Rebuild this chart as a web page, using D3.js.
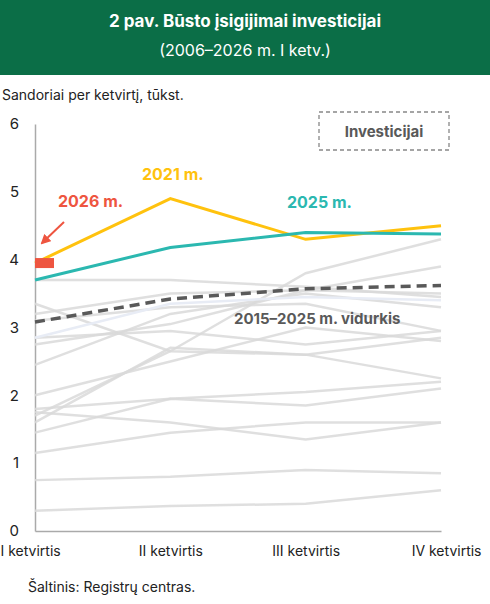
<!DOCTYPE html><html><head><meta charset="utf-8"><script src="https://cdn.jsdelivr.net/npm/d3@7"></script>
<style>body{margin:0;background:#fff;font-family:Inter,"Noto Sans",sans-serif}</style></head><body><svg id="c" width="490" height="604"></svg><script>
const categories=["I ketvirtis","II ketvirtis","III ketvirtis","IV ketvirtis"];
const grayYears=[[0.3,0.37,0.4,0.6],[0.75,0.8,0.9,0.85],[1.15,1.45,1.6,1.6],[1.75,1.6,1.35,1.6],[1.45,1.95,2.05,2.2],[1.8,1.95,1.85,2.1],[1.6,2.7,2.6,2.25],[2.0,2.5,3.0,2.8],[1.7,2.65,3.8,4.3],[2.45,3.2,3.5,3.3],[2.75,3.05,3.55,3.5],[3.35,2.65,2.6,2.85],[2.85,2.95,2.75,2.95],[3.2,3.5,3.55,3.9],[3.7,3.7,3.6,3.45],[3.1,3.3,3.35,2.95]];
const lightYears=[[2.85,3.35,3.45,3.4]];
const y2021=[3.95,4.9,4.3,4.5];
const y2025=[3.7,4.18,4.4,4.38];
const y2026=[3.95];
const avg=[3.08,3.42,3.57,3.62];
const yTicks=[0,1,2,3,4,5,6];
const svg=d3.select("#c");
svg.append("rect").attr("width",490).attr("height",75).attr("fill","#0b6e47");
svg.append("text").attr("x",245).attr("y",27).attr("text-anchor","middle").attr("fill","#fff").attr("font-weight","bold").attr("font-size",17).text("2 pav. Būsto įsigijimai investicijai");
svg.append("text").attr("x",245).attr("y",56).attr("text-anchor","middle").attr("fill","#fff").attr("font-size",16).text("(2006–2026 m. I ketv.)");
svg.append("text").attr("x",2).attr("y",100).attr("font-size",14).attr("fill","#222").text("Sandoriai per ketvirtį, tūkst.");
const x=d3.scalePoint().domain(categories).range([35,441]);
const y=d3.scaleLinear().domain([0,6]).range([531,124]);
const ax=svg.append("g").attr("transform","translate(0,531)").call(d3.axisBottom(x).tickSize(0).tickPadding(15));
ax.select(".domain").attr("stroke","#aaa").attr("stroke-width",1.5);
ax.selectAll("text").attr("font-size",14).attr("fill","#222").attr("font-family","Inter,sans-serif");
ax.selectAll(".tick text").filter((d,i)=>i==0).attr("text-anchor","start").attr("dx",-35);
ax.selectAll(".tick text").filter((d,i)=>i==3).attr("text-anchor","end").attr("dx",40);
const ay=svg.append("g").attr("transform","translate(35,0)").call(d3.axisLeft(y).tickValues(yTicks).tickFormat(d3.format("d")).tickSize(0).tickPadding(16));
ay.select(".domain").attr("stroke","#aaa").attr("stroke-width",1.5);
ay.selectAll("text").attr("font-size",15).attr("fill","#222").attr("font-family","Inter,sans-serif");
const line=d3.line().x((d,i)=>x(categories[i])).y(d=>y(d));
grayYears.forEach(s=>svg.append("path").attr("d",line(s)).attr("fill","none").attr("stroke","#d9d9d9").attr("stroke-width",2.5).attr("opacity",0.85));
lightYears.forEach(s=>svg.append("path").attr("d",line(s)).attr("fill","none").attr("stroke","#e8ecf5").attr("stroke-width",2.5));
svg.append("path").attr("d",line(avg)).attr("fill","none").attr("stroke","#595959").attr("stroke-width",3.5).attr("stroke-dasharray","10,6");
svg.append("path").attr("d",line(y2021)).attr("fill","none").attr("stroke","#ffc20e").attr("stroke-width",3);
svg.append("path").attr("d",line(y2025)).attr("fill","none").attr("stroke","#2bb8b0").attr("stroke-width",3);
svg.append("rect").attr("x",x(categories[0])).attr("y",y(y2026[0])-5).attr("width",19).attr("height",10).attr("fill","#ee5540");
svg.append("text").attr("x",142).attr("y",180).attr("fill","#ffc20e").attr("font-weight","bold").attr("font-size",16).text("2021 m.");
svg.append("text").attr("x",287).attr("y",208).attr("fill","#2bb8b0").attr("font-weight","bold").attr("font-size",16).text("2025 m.");
svg.append("text").attr("x",58).attr("y",207).attr("fill","#ee5540").attr("font-weight","bold").attr("font-size",16).text("2026 m.");
svg.append("defs").append("marker").attr("id","ar").attr("viewBox","0 0 10 10").attr("refX",8).attr("refY",5).attr("markerWidth",5).attr("markerHeight",5).attr("orient","auto").append("path").attr("d","M0,0L10,5L0,10z").attr("fill","#ee5540");
svg.append("line").attr("x1",64).attr("y1",222).attr("x2",42).attr("y2",243).attr("stroke","#ee5540").attr("stroke-width",2).attr("marker-end","url(#ar)");
svg.append("text").attr("x",234).attr("y",324).attr("fill","#595959").attr("font-weight","bold").attr("font-size",15).text("2015–2025 m. vidurkis");
svg.append("rect").attr("x",319).attr("y",112).attr("width",130).attr("height",38).attr("fill","#fff").attr("stroke","#888").attr("stroke-dasharray","4,3").attr("stroke-width",1.3);
svg.append("text").attr("x",384).attr("y",137).attr("text-anchor","middle").attr("fill","#595959").attr("font-weight","bold").attr("font-size",15).text("Investicijai");
svg.append("text").attr("x",28).attr("y",592).attr("font-size",14).attr("fill","#222").text("Šaltinis: Registrų centras.");
</script></body></html>
